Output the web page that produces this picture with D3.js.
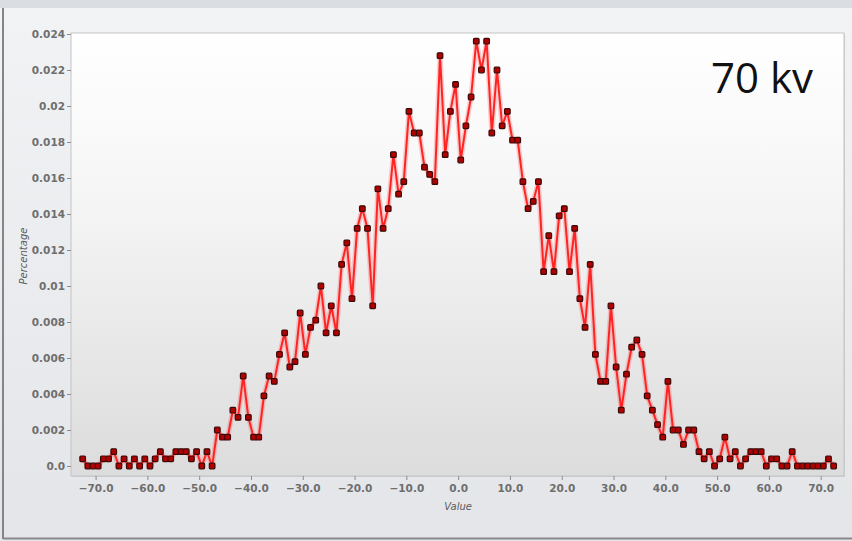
<!DOCTYPE html>
<html>
<head>
<meta charset="utf-8">
<script src="https://cdn.jsdelivr.net/npm/d3@7/dist/d3.min.js"></script>
<style>
  html, body { margin: 0; padding: 0; background: #e9ebee; }
  svg { display: block; }
</style>
</head>
<body>
<div id="chart"></div>
<script>
// distribution of values at 70 kv: percentage per bin, bins 1 unit wide
const BIN_START = -72.5;   // centre of the first bin
const BIN_STEP = 1;
const percentages = [
  0.0004, 0, 0, 0, 0.0004, 0.0004, 0.0008, 0, 0.0004, 0,
  0.0004, 0, 0.0004, 0, 0.0004, 0.0008, 0.0004, 0.0004, 0.0008, 0.0008,
  0.0008, 0.0004, 0.0008, 0, 0.0008, 0, 0.002, 0.0016, 0.0016, 0.0031,
  0.0027, 0.005, 0.0027, 0.0016, 0.0016, 0.0039, 0.005, 0.0047, 0.0062, 0.0074,
  0.0055, 0.0058, 0.0085, 0.0062, 0.0077, 0.0081, 0.0100, 0.0074, 0.0089, 0.0074,
  0.0112, 0.0124, 0.0093, 0.0132, 0.0143, 0.0132, 0.0089, 0.0154, 0.0132, 0.0143,
  0.0173, 0.0151, 0.0158, 0.0197, 0.0185, 0.0185, 0.0166, 0.0162, 0.0158, 0.0228,
  0.0173, 0.0197, 0.0212, 0.0170, 0.0189, 0.0205, 0.0236, 0.0220, 0.0236, 0.0185,
  0.0220, 0.0189, 0.0197, 0.0181, 0.0181, 0.0158, 0.0143, 0.0147, 0.0158, 0.0108,
  0.0128, 0.0108, 0.0139, 0.0143, 0.0108, 0.0132, 0.0093, 0.0077, 0.0112, 0.0062,
  0.0047, 0.0047, 0.0089, 0.0055, 0.0031, 0.0051, 0.0066, 0.0070, 0.0062, 0.0039,
  0.0031, 0.0023, 0.0016, 0.0047, 0.002, 0.002, 0.0012, 0.002, 0.002, 0.0008,
  0.0004, 0.0008, 0, 0.0004, 0.0016, 0.0004, 0.0008, 0, 0.0004, 0.0008,
  0.0008, 0.0008, 0, 0.0004, 0.0004, 0, 0, 0.0008, 0, 0,
  0, 0, 0, 0, 0.0004, 0
];
const xTicks = [-70, -60, -50, -40, -30, -20, -10, 0, 10, 20, 30, 40, 50, 60, 70];
const yTicks = [0, 0.002, 0.004, 0.006, 0.008, 0.01, 0.012, 0.014, 0.016, 0.018, 0.02, 0.022, 0.024];
const xTitle = 'Value';
const yTitle = 'Percentage';
const caption = '70 kv';

const width = 852, height = 541;
const plot = { left: 71, right: 844, top: 33, bottom: 476 };

const rows = percentages.map((p, i) => ({ value: BIN_START + i * BIN_STEP, pct: p }));

const x = d3.scaleLinear().domain([-70, 70]).range([95.6, 820.7]);
const y = d3.scaleLinear().domain([0, 0.024]).range([466, 34]);

const svg = d3.select('#chart').append('svg')
  .attr('width', width).attr('height', height);

const defs = svg.append('defs');
const bg = defs.append('linearGradient').attr('id', 'bg').attr('x1', 0).attr('y1', 0).attr('x2', 0).attr('y2', 1);
bg.append('stop').attr('offset', '0%').attr('stop-color', '#f1f3f5');
bg.append('stop').attr('offset', '100%').attr('stop-color', '#e3e5e8');
const pg = defs.append('linearGradient').attr('id', 'pg').attr('x1', 0).attr('y1', 0).attr('x2', 0).attr('y2', 1);
pg.append('stop').attr('offset', '0%').attr('stop-color', '#ffffff');
pg.append('stop').attr('offset', '35%').attr('stop-color', '#f6f6f6');
pg.append('stop').attr('offset', '100%').attr('stop-color', '#dcdcdc');

// window background and frame
svg.append('rect').attr('width', width).attr('height', height).attr('fill', 'url(#bg)');
svg.append('rect').attr('width', width).attr('height', 8).attr('fill', '#dadde1');
svg.append('line').attr('x1', 3).attr('x2', 3).attr('y1', 8).attr('y2', 539)
  .attr('stroke', '#858585').attr('stroke-width', 2);
svg.append('line').attr('x1', 3).attr('x2', width).attr('y1', 538.5).attr('y2', 538.5)
  .attr('stroke', '#8a8a8a').attr('stroke-width', 2);

// plot area with a soft shadow
svg.append('rect')
  .attr('x', plot.left + 1).attr('y', plot.top + 1)
  .attr('width', plot.right - plot.left).attr('height', plot.bottom - plot.top)
  .attr('fill', '#cfd1d4');
svg.append('rect')
  .attr('x', plot.left).attr('y', plot.top)
  .attr('width', plot.right - plot.left).attr('height', plot.bottom - plot.top)
  .attr('fill', 'url(#pg)').attr('stroke', '#c4c4c4').attr('stroke-width', 1);

const tickFont = 'DejaVu Sans, Verdana, sans-serif';

// y axis
const yAxis = svg.append('g').attr('transform', `translate(${plot.left},0)`)
  .call(d3.axisLeft(y).tickValues(yTicks).tickSize(4).tickPadding(2)
    .tickFormat(d => d === 0 ? '0.0' : d3.format('~g')(+d.toFixed(3))));
yAxis.select('.domain').remove();
yAxis.selectAll('line').attr('stroke', '#8c8c8c');
yAxis.selectAll('text').attr('fill', '#6e6e6e').attr('font-size', '10.5px')
  .attr('font-weight', 'bold').attr('font-family', tickFont);

// x axis
const xAxis = svg.append('g').attr('transform', `translate(0,${plot.bottom})`)
  .call(d3.axisBottom(x).tickValues(xTicks).tickSize(4).tickPadding(5)
    .tickFormat(d3.format('.1f')));
xAxis.select('.domain').remove();
xAxis.selectAll('line').attr('stroke', '#8c8c8c');
xAxis.selectAll('text').attr('fill', '#6e6e6e').attr('font-size', '10.5px')
  .attr('font-weight', 'bold').attr('font-family', tickFont);

// axis titles
svg.append('text').attr('x', x(0)).attr('y', 510)
  .attr('text-anchor', 'middle').attr('font-style', 'italic')
  .attr('font-family', tickFont).attr('font-size', '10px').attr('fill', '#5a5a5a')
  .text(xTitle);
svg.append('text').attr('transform', 'translate(27,256) rotate(-90)')
  .attr('text-anchor', 'middle').attr('font-style', 'italic')
  .attr('font-family', tickFont).attr('font-size', '10px').attr('fill', '#5a5a5a')
  .text(yTitle);

// series line with a light glow
const line = d3.line().x(d => x(d.value)).y(d => y(d.pct));
svg.append('path').datum(rows)
  .attr('fill', 'none').attr('stroke', '#ff3b3b').attr('stroke-opacity', 0.25)
  .attr('stroke-width', 5).attr('stroke-linejoin', 'round')
  .attr('d', line);
svg.append('path').datum(rows)
  .attr('fill', 'none').attr('stroke', '#ff2424').attr('stroke-width', 2)
  .attr('stroke-linejoin', 'round')
  .attr('d', line);

// square markers
svg.append('g').selectAll('rect').data(rows).join('rect')
  .attr('x', d => x(d.value) - 2.8).attr('y', d => y(d.pct) - 2.8)
  .attr('width', 5.6).attr('height', 5.6).attr('rx', 1)
  .attr('fill', '#b00000').attr('stroke', '#3a0a0a').attr('stroke-width', 1.2);

// caption
svg.append('text').attr('x', 711).attr('y', 93)
  .attr('font-family', 'Open Sans, Liberation Sans, sans-serif')
  .attr('font-size', '42px').attr('fill', '#111')
  .text(caption);
</script>
</body>
</html>
